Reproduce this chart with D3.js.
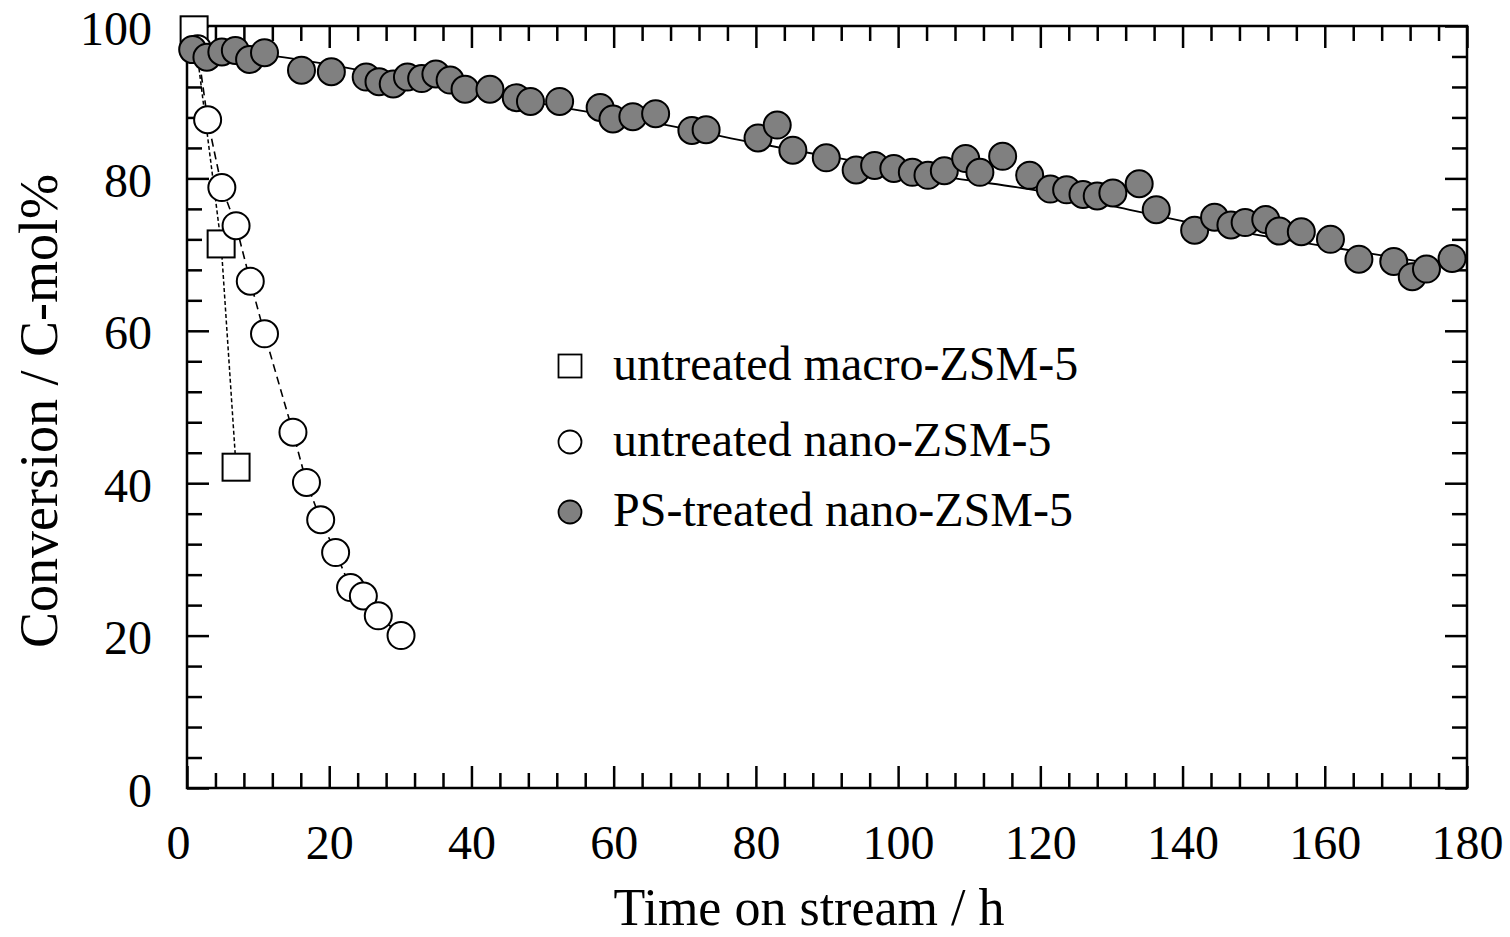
<!DOCTYPE html>
<html>
<head>
<meta charset="utf-8">
<script src="https://cdn.jsdelivr.net/npm/d3@7"></script>
<style>
  body { margin: 0; background: #fff; }
  text { font-family: "Liberation Serif", "Times New Roman", serif; fill: #000; }
</style>
</head>
<body>
<div id="root"></div>
<script>
// data
var macroTime = [1.0, 4.8, 6.9];
var macroConv = [99.5, 71.4, 42.1];

var nanoTime = [1.5, 2.9, 4.9, 6.9, 8.9, 10.9, 14.9, 16.8, 18.8, 20.9, 23.0, 24.8, 26.9, 30.1];
var nanoConv = [97.0, 87.7, 78.8, 73.8, 66.5, 59.6, 46.7, 40.1, 35.2, 30.9, 26.3, 25.2, 22.6, 20.0];

var psTime = [0.8, 2.8, 4.9, 6.8, 8.8, 10.9, 16.1, 20.3, 25.2, 27.0, 29.0, 31.0, 33.0, 35.0,
    37.0, 39.1, 42.6, 46.3, 48.3, 52.4, 58.1, 59.9, 62.7, 65.9, 71.0, 73.0, 80.3, 83.0, 85.2, 89.9,
    94.1, 96.7, 99.4, 102.0, 104.2, 106.5, 109.5, 111.5, 114.7, 118.5, 121.4, 123.7, 126.0, 128.0,
    130.2, 133.9, 136.3, 141.7, 144.5, 146.8, 148.8, 151.7, 153.6, 156.7, 160.8, 164.8, 169.7,
    172.3, 174.3, 177.9];
var psConv = [96.9, 95.9, 96.6, 96.8, 95.6, 96.5, 94.2, 94.0, 93.3, 92.7, 92.4, 93.3, 93.1, 93.7,
    92.9, 91.7, 91.7, 90.6, 90.1, 90.1, 89.3, 87.8, 88.1, 88.5, 86.3, 86.4, 85.3, 87.0, 83.7, 82.7,
    81.1, 81.7, 81.3, 80.8, 80.4, 81.0, 82.6, 80.8, 82.9, 80.4, 78.6, 78.5, 77.9, 77.7,
    78.1, 79.3, 75.9, 73.2, 74.9, 73.9, 74.2, 74.6, 73.1, 73.0, 72.0, 69.4, 69.1,
    67.1, 68.1, 69.5];

// trend line drawn through the PS-treated points
var trendTime = [0.8, 12.6, 30, 54.1, 68, 78.5, 95, 108, 119, 131, 140, 162, 168, 178];
var trendConv = [97.0, 96.0, 93.2, 89.1, 86.9, 84.9, 82.1, 80.0, 78.5, 76.2, 74.4, 70.8, 69.9, 68.4];

var xMajor = [0, 20, 40, 60, 80, 100, 120, 140, 160, 180];
var yMajor = [0, 20, 40, 60, 80, 100];
var legendLabels = ["untreated macro-ZSM-5", "untreated nano-ZSM-5", "PS-treated nano-ZSM-5"];

var W = 1510, H = 937;
var pL = 187, pR = 1467, pT = 26, pB = 788;

var svg = d3.select("#root").append("svg")
    .attr("width", W)
    .attr("height", H);

var x = d3.scaleLinear().domain([0, 180]).range([pL, pR]);
var y = d3.scaleLinear().domain([0, 100]).range([pB, pT]);

var xMinor = d3.range(0, 181, 4).filter((d) => d % 20 !== 0);
var yMinor = d3.range(0, 101, 4).filter((d) => d % 20 !== 0);

function styleAxis(g) {
    g.select(".domain").remove();
    g.selectAll("line").attr("stroke", "#000").attr("stroke-width", 2.5);
    g.selectAll("text").style("font-size", "48px");
}

// bottom
svg.append("g").attr("transform", "translate(0," + pB + ")")
    .call(d3.axisBottom(x).tickValues(xMajor).tickSize(-22))
    .call(styleAxis)
    .call((g) => g.selectAll("text").attr("y", 71).attr("dy", null)
        .attr("dx", (d) => (d === 0 ? -9 : 0)));
svg.append("g").attr("transform", "translate(0," + pB + ")")
    .call(d3.axisBottom(x).tickValues(xMinor).tickSize(-15).tickFormat(""))
    .call(styleAxis);
// top
svg.append("g").attr("transform", "translate(0," + pT + ")")
    .call(d3.axisTop(x).tickValues(xMajor).tickSize(-22).tickFormat(""))
    .call(styleAxis);
svg.append("g").attr("transform", "translate(0," + pT + ")")
    .call(d3.axisTop(x).tickValues(xMinor).tickSize(-15).tickFormat(""))
    .call(styleAxis);
// left
svg.append("g").attr("transform", "translate(" + pL + ",0)")
    .call(d3.axisLeft(y).tickValues(yMajor).tickSize(-22))
    .call(styleAxis)
    .call((g) => g.selectAll("text").attr("x", -35).attr("dy", null).attr("y", 18));
svg.append("g").attr("transform", "translate(" + pL + ",0)")
    .call(d3.axisLeft(y).tickValues(yMinor).tickSize(-15).tickFormat(""))
    .call(styleAxis);
// right
svg.append("g").attr("transform", "translate(" + pR + ",0)")
    .call(d3.axisRight(y).tickValues(yMajor).tickSize(-22).tickFormat(""))
    .call(styleAxis);
svg.append("g").attr("transform", "translate(" + pR + ",0)")
    .call(d3.axisRight(y).tickValues(yMinor).tickSize(-15).tickFormat(""))
    .call(styleAxis);

// frame
svg.append("rect")
    .attr("x", pL).attr("y", pT)
    .attr("width", pR - pL).attr("height", pB - pT)
    .attr("fill", "none").attr("stroke", "#000").attr("stroke-width", 2.5);

// axis titles
svg.append("text")
    .attr("x", 809).attr("y", 925)
    .attr("text-anchor", "middle")
    .style("font-size", "52px")
    .text("Time on stream / h");
svg.append("text")
    .attr("transform", "translate(57,411) rotate(-90)")
    .attr("text-anchor", "middle")
    .style("font-size", "54px")
    .text("Conversion / C-mol%");

function zip(t, v) { return t.map((d, i) => [d, v[i]]); }
var macro = zip(macroTime, macroConv);
var nano = zip(nanoTime, nanoConv);
var ps = zip(psTime, psConv);
var trend = zip(trendTime, trendConv);

var line = d3.line().x((d) => x(d[0])).y((d) => y(d[1]));

// untreated macro
svg.append("path").datum(macro)
    .attr("d", line)
    .attr("fill", "none").attr("stroke", "#000")
    .attr("stroke-width", 1.5).attr("stroke-dasharray", "4,2.5");
svg.append("g").selectAll("rect").data(macro).enter().append("rect")
    .attr("x", (d) => x(d[0]) - 13.5)
    .attr("y", (d) => y(d[1]) - 13.5)
    .attr("width", 27).attr("height", 27)
    .attr("fill", "#fff").attr("stroke", "#000").attr("stroke-width", 2);

// untreated nano
svg.append("path").datum(nano)
    .attr("d", line)
    .attr("fill", "none").attr("stroke", "#000")
    .attr("stroke-width", 1.6).attr("stroke-dasharray", "8,5");
svg.append("g").selectAll("circle").data(nano).enter().append("circle")
    .attr("cx", (d) => x(d[0]))
    .attr("cy", (d) => y(d[1]))
    .attr("r", 13.5)
    .attr("fill", "#fff").attr("stroke", "#000").attr("stroke-width", 2);

// PS-treated nano
svg.append("path").datum(trend)
    .attr("d", d3.line().x((d) => x(d[0])).y((d) => y(d[1])).curve(d3.curveMonotoneX))
    .attr("fill", "none").attr("stroke", "#000").attr("stroke-width", 1.8);
svg.append("g").selectAll("circle").data(ps).enter().append("circle")
    .attr("cx", (d) => x(d[0]))
    .attr("cy", (d) => y(d[1]))
    .attr("r", 13.5)
    .attr("fill", "#808080").attr("stroke", "#000").attr("stroke-width", 2);

// legend
var legendY = [366, 442, 512];
var lg = svg.append("g");
lg.append("rect")
    .attr("x", 570 - 11.5).attr("y", legendY[0] - 11.5)
    .attr("width", 23).attr("height", 23)
    .attr("fill", "#fff").attr("stroke", "#000").attr("stroke-width", 1.8);
lg.append("circle")
    .attr("cx", 570).attr("cy", legendY[1]).attr("r", 11.5)
    .attr("fill", "#fff").attr("stroke", "#000").attr("stroke-width", 1.8);
lg.append("circle")
    .attr("cx", 570).attr("cy", legendY[2]).attr("r", 11.5)
    .attr("fill", "#808080").attr("stroke", "#000").attr("stroke-width", 1.8);
lg.selectAll("text").data(legendLabels).enter().append("text")
    .attr("x", 613)
    .attr("y", (d, i) => legendY[i] + 14)
    .style("font-size", "48px")
    .text((d) => d);
</script>
</body>
</html>
